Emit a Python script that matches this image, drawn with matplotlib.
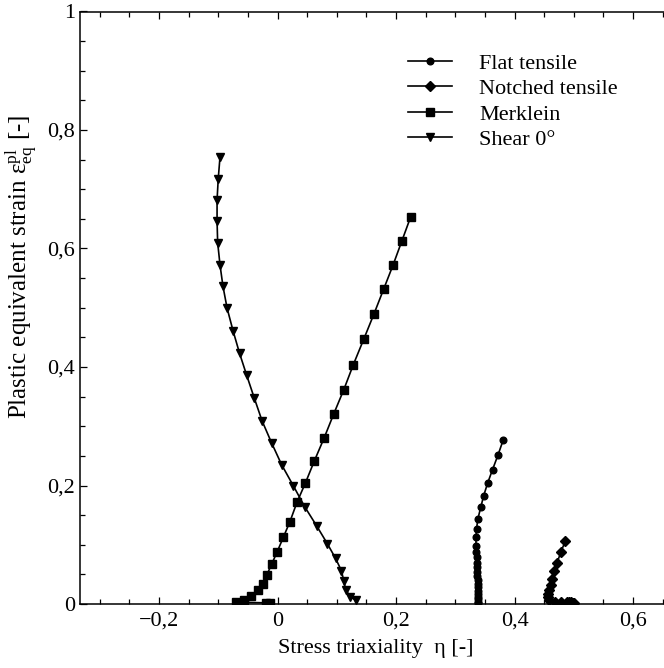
import numpy as np
import matplotlib
matplotlib.use("Agg")
import matplotlib.pyplot as plt
from matplotlib.ticker import MultipleLocator, FuncFormatter

plt.rcParams['font.family'] = ['Liberation Serif', 'DejaVu Serif']
plt.rcParams['mathtext.fontset'] = 'custom'
plt.rcParams['mathtext.rm'] = 'Liberation Serif'
plt.rcParams['mathtext.it'] = 'Liberation Serif'

# data (stress triaxiality, equivalent plastic strain)
flat_x = [0.338, 0.338, 0.338, 0.338, 0.338, 0.338, 0.338, 0.338, 0.338, 0.337,
          0.337, 0.337, 0.336, 0.336, 0.335, 0.335, 0.335, 0.336, 0.338, 0.343,
          0.348, 0.355, 0.363, 0.372, 0.381]
flat_y = [0.001, 0.004, 0.008, 0.012, 0.017, 0.022, 0.028, 0.034, 0.040, 0.047,
          0.054, 0.062, 0.070, 0.079, 0.088, 0.098, 0.113, 0.127, 0.143, 0.163,
          0.183, 0.205, 0.227, 0.251, 0.277]

notch_x = [0.501, 0.498, 0.495, 0.492, 0.489, 0.479, 0.469, 0.458, 0.456, 0.457,
           0.458, 0.461, 0.464, 0.466, 0.472, 0.478, 0.486]
notch_y = [0.001, 0.002, 0.003, 0.003, 0.003, 0.004, 0.004, 0.007, 0.011, 0.017,
           0.024, 0.032, 0.042, 0.055, 0.070, 0.087, 0.107]

merk_x = [-0.012, -0.020, -0.070, -0.057, -0.044, -0.033, -0.025, -0.018, -0.010,
          -0.001, 0.010, 0.021, 0.033, 0.047, 0.062, 0.079, 0.095, 0.112, 0.128,
          0.146, 0.163, 0.179, 0.195, 0.210, 0.225]
merk_y = [0.002, 0.002, 0.003, 0.007, 0.014, 0.023, 0.034, 0.049, 0.067,
          0.087, 0.113, 0.139, 0.172, 0.204, 0.241, 0.281, 0.321, 0.362, 0.404,
          0.448, 0.490, 0.531, 0.572, 0.613, 0.654]

shear_x = [0.133, 0.123, 0.115, 0.112, 0.108, 0.098, 0.084, 0.066, 0.046, 0.027,
           0.007, -0.010, -0.026, -0.039, -0.052, -0.064, -0.075, -0.085, -0.092,
           -0.097, -0.101, -0.102, -0.102, -0.100, -0.097]
shear_y = [0.006, 0.012, 0.024, 0.038, 0.056, 0.077, 0.102, 0.132, 0.164, 0.199,
           0.235, 0.272, 0.309, 0.347, 0.386, 0.423, 0.461, 0.499, 0.536,
           0.572, 0.610, 0.646, 0.682, 0.718, 0.755]

fig = plt.figure(figsize=(6.64, 6.68), dpi=100)
ax = fig.add_axes([80 / 664, 64 / 668, 592.5 / 664, 592.5 / 668])

lw = 1.2
ax.plot(flat_x, flat_y, '-o', color='black', lw=lw, ms=4.8, label='Flat tensile')
ax.plot(notch_x, notch_y, '-D', color='black', lw=lw, ms=4.8, label='Notched tensile')
ax.plot(merk_x, merk_y, '-s', color='black', lw=lw, ms=5.3, label='Merklein')
ax.plot(shear_x, shear_y, '-v', color='black', lw=lw, ms=5.6, label='Shear 0°')

ax.set_xlim(-1 / 3, 2 / 3)
ax.set_ylim(0, 1)


def comma_fmt(v, pos):
    if abs(v - round(v)) < 1e-9:
        s = '%d' % round(v)
    else:
        s = '%.1f' % v
    return s.replace('.', ',').replace('-', '\u2212')


ax.xaxis.set_major_locator(MultipleLocator(0.2))
ax.xaxis.set_minor_locator(MultipleLocator(0.05))
ax.yaxis.set_major_locator(MultipleLocator(0.2))
ax.yaxis.set_minor_locator(MultipleLocator(0.05))
ax.xaxis.set_major_formatter(FuncFormatter(comma_fmt))
ax.yaxis.set_major_formatter(FuncFormatter(comma_fmt))
ax.tick_params(which='both', direction='in', top=True, right=True, labelsize=16)
ax.tick_params(which='major', length=5, width=0.9)
ax.tick_params(which='minor', length=3.5, width=0.9)
ax.tick_params(axis='x', pad=5.5)
for sp in ax.spines.values():
    sp.set_linewidth(1.1)

ax.set_xlabel('Stress triaxiality  \u03b7 [-]', fontsize=16, labelpad=6)
ax.set_ylabel(r'Plastic equivalent strain $\mathrm{\varepsilon_{eq}^{pl}}$ [-]',
              fontsize=18)
ax.yaxis.set_label_coords(-0.068, 0.569)

ax.legend(loc='upper left', bbox_to_anchor=(408 / 664, (668 - 53) / 668),
          bbox_transform=fig.transFigure, frameon=False, fontsize=16,
          handlelength=2.0, handletextpad=1.2, labelspacing=0.225,
          borderaxespad=0, borderpad=0)

fig.savefig('out.png', dpi=100)
